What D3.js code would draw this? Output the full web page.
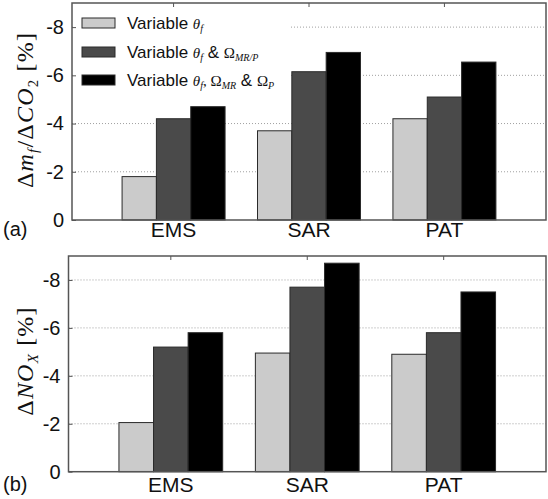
<!DOCTYPE html>
<html>
<head>
<meta charset="utf-8">
<script src="https://cdn.jsdelivr.net/npm/d3@7"></script>
<style>
  html, body { margin: 0; padding: 0; background: #fff; }
  svg { display: block; }
  text { font-family: "Liberation Sans", Arial, sans-serif; fill: #111; }
  .math { font-family: "Liberation Serif", "DejaVu Serif", serif; }
</style>
</head>
<body>
<svg id="chart" width="548" height="499"></svg>
<script>
// Mission categories
const categories = ["EMS", "SAR", "PAT"];

// Series names (rendered with math formatting in the legend)
const seriesNames = ["Variable θf", "Variable θf & ΩMR/P", "Variable θf, ΩMR & ΩP"];
const seriesColors = ["#cbcbcb", "#4a4a4a", "#000000"];

// Panel (a): Δm_f / ΔCO2 [%]
const fuelVariableTheta = [-1.8, -3.7, -4.2];
const fuelThetaOmegaMRP = [-4.2, -6.15, -5.1];
const fuelThetaOmegaMRandP = [-4.7, -6.95, -6.55];

// Panel (b): ΔNOx [%]
const noxVariableTheta = [-2.05, -4.95, -4.9];
const noxThetaOmegaMRP = [-5.2, -7.7, -5.8];
const noxThetaOmegaMRandP = [-5.8, -8.7, -7.5];

// Y axis ticks
const yTicks = [0, -2, -4, -6, -8];

const svg = d3.select("#chart");

function drawPanel(opts) {
  const { left, right, top, bottom, series, panelLabel, labelBaseline, catBaseline, yLabel, yLabelCy, legend } = opts;

  const x = d3.scaleLinear().domain([0.25, 3.75]).range([left, right]);
  const y = d3.scaleLinear().domain([0, -9]).range([bottom, top]);
  const barW = 0.2535; // in category units
  const g = svg.append("g");

  // dotted grid lines
  g.selectAll(".grid").data(yTicks.filter(d => d !== 0)).enter()
    .append("line")
    .attr("x1", left).attr("x2", right)
    .attr("y1", d => y(d)).attr("y2", d => y(d))
    .attr("stroke", "#a0a0a0").attr("stroke-width", 1)
    .attr("stroke-dasharray", "1,2");

  // legend background (sits over the grid)
  if (legend) {
    g.append("rect")
      .attr("x", left + 3).attr("y", top + 5)
      .attr("width", 215).attr("height", 88)
      .attr("fill", "#fff");
  }

  // bars
  series.forEach((vals, si) => {
    g.selectAll(".bar" + si).data(vals).enter()
      .append("rect")
      .attr("x", (d, i) => x(i + 1 + (si - 1.5) * barW))
      .attr("width", x(1 + barW) - x(1))
      .attr("y", d => y(d))
      .attr("height", d => y(0) - y(d))
      .attr("fill", seriesColors[si])
      .attr("stroke", "#2a2a2a")
      .attr("stroke-width", 1);
  });

  // frame
  g.append("rect")
    .attr("x", left).attr("y", top)
    .attr("width", right - left).attr("height", bottom - top)
    .attr("fill", "none").attr("stroke", "#555").attr("stroke-width", 1.5);

  // y axis: labels and small ticks
  const yAxis = d3.axisLeft(y).tickValues(yTicks).tickSize(-4).tickPadding(8)
    .tickFormat(d => d === 0 ? "0" : "-" + Math.abs(d));
  const ya = g.append("g").attr("transform", `translate(${left},0)`).call(yAxis);
  ya.select(".domain").remove();
  ya.selectAll(".tick line").attr("stroke", "#555");
  ya.selectAll(".tick text")
    .style("font-family", "'Liberation Sans', Arial, sans-serif")
    .style("font-size", "20px").attr("fill", "#111");

  // category ticks on the top edge
  g.selectAll(".ctick").data(categories).enter()
    .append("line")
    .attr("x1", (d, i) => x(i + 1)).attr("x2", (d, i) => x(i + 1))
    .attr("y1", top).attr("y2", top + 4)
    .attr("stroke", "#555");

  // category labels
  g.selectAll(".clabel").data(categories).enter()
    .append("text")
    .attr("x", (d, i) => x(i + 1))
    .attr("y", catBaseline)
    .attr("text-anchor", "middle")
    .style("font-size", "21px")
    .text(d => d);

  // panel label
  g.append("text").attr("x", 3).attr("y", labelBaseline)
    .style("font-size", "20px").text(panelLabel);

  // y label (serif, TeX-like)
  const yl = g.append("text")
    .attr("class", "math")
    .attr("transform", `translate(33,${yLabelCy}) rotate(-90)`)
    .attr("text-anchor", "middle")
    .style("font-size", "24px").style("letter-spacing", "1.2px").attr("fill", "#333");
  yLabel(yl);

  if (legend) drawLegend(g);
}

function sub(t, s, italic, size) {
  t.append("tspan").attr("class", "math").attr("baseline-shift", "-30%")
    .style("font-size", size || "0.62em").style("font-style", italic ? "italic" : "normal").text(s);
}
function mathT(t, s, italic, size) {
  const ts = t.append("tspan").attr("class", "math").style("font-style", italic ? "italic" : "normal").text(s);
  if (size) ts.style("font-size", size);
}
function plain(t, s) {
  t.append("tspan").text(s);
}

function drawLegend(g) {
  const rowsY = [23, 52, 80];
  const m = "15px", s = "10px";
  const builders = [
    t => { plain(t, "Variable "); mathT(t, "θ", true, m); sub(t, "f", true, s); },
    t => { plain(t, "Variable "); mathT(t, "θ", true, m); sub(t, "f", true, s); plain(t, " & "); mathT(t, "Ω", false, m); sub(t, "MR/P", true, s); },
    t => { plain(t, "Variable "); mathT(t, "θ", true, m); sub(t, "f", true, s); mathT(t, ", Ω", false, m); sub(t, "MR", true, s); plain(t, " & "); mathT(t, "Ω", false, m); sub(t, "P", true, s); }
  ];
  seriesNames.forEach((name, i) => {
    g.append("rect")
      .attr("x", 82).attr("y", rowsY[i] - 5)
      .attr("width", 33).attr("height", 10)
      .attr("fill", seriesColors[i]).attr("stroke", "#2a2a2a").attr("stroke-width", 1);
    const t = g.append("text").attr("x", 127).attr("y", rowsY[i] + 6)
      .style("font-size", "17px").attr("aria-label", name);
    builders[i](t);
  });
}

// Panel (a)
drawPanel({
  left: 72, right: 546, top: 3, bottom: 220,
  series: [fuelVariableTheta, fuelThetaOmegaMRP, fuelThetaOmegaMRandP],
  panelLabel: "(a)", labelBaseline: 236, catBaseline: 237,
  yLabelCy: 110, legend: true,
  yLabel: t => {
    mathT(t, "Δ", false); mathT(t, "m", true); sub(t, "f", true);
    mathT(t, "/Δ", false); mathT(t, "CO", true); sub(t, "2", false);
    mathT(t, " [%]", false);
  }
});

// Panel (b)
drawPanel({
  left: 68.5, right: 546, top: 256, bottom: 471.7,
  series: [noxVariableTheta, noxThetaOmegaMRP, noxThetaOmegaMRandP],
  panelLabel: "(b)", labelBaseline: 491, catBaseline: 492,
  yLabelCy: 361, legend: false,
  yLabel: t => {
    mathT(t, "Δ", false); mathT(t, "NO", true); sub(t, "X", true);
    mathT(t, " [%]", false);
  }
});
</script>
</body>
</html>
